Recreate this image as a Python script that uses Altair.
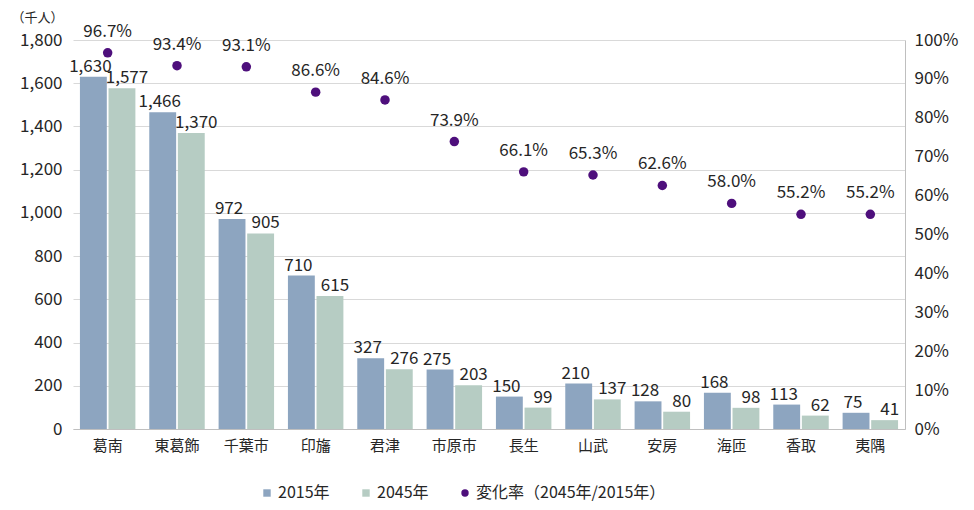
import altair as alt
import pandas as pd

cats = ["葛南", "東葛飾", "千葉市", "印旛", "君津", "市原市", "長生", "山武", "安房", "海匝", "香取", "夷隅"]
v2015 = [1630, 1466, 972, 710, 327, 275, 150, 210, 128, 168, 113, 75]
v2045 = [1577, 1370, 905, 615, 276, 203, 99, 137, 80, 98, 62, 41]
rate = [96.7, 93.4, 93.1, 86.6, 84.6, 73.9, 66.1, 65.3, 62.6, 58.0, 55.2, 55.2]
series = ["2015年", "2045年", "変化率（2045年/2015年）"]
colors = ["#8DA5C0", "#B6CCC3", "#4E0F7C"]
left_ticks = [0, 200, 400, 600, 800, 1000, 1200, 1400, 1600, 1800]
right_ticks = [0, 0.1, 0.2, 0.3, 0.4, 0.5, 0.6, 0.7, 0.8, 0.9, 1.0]

FONT = "Noto Sans CJK JP"
TXT = "#262626"

bars_df = pd.DataFrame({
    "cat": cats * 2,
    "series": [series[0]] * len(cats) + [series[1]] * len(cats),
    "value": v2015 + v2045,
})
rate_df = pd.DataFrame({"cat": cats, "series": [series[2]] * len(cats), "rate": rate})

xenc = alt.X(
    "cat:N", sort=cats,
    scale=alt.Scale(paddingInner=0.2, paddingOuter=0.1),
    axis=alt.Axis(title=None, labelAngle=0, ticks=False, domainColor="#BFBFBF",
                  labelPadding=9, labelFontSize=15, labelColor=TXT),
)
xoff = alt.XOffset("series:N", sort=series[:2], scale=alt.Scale(paddingInner=0.06))

legend = alt.Legend(title=None, orient="none", direction="horizontal", legendX=186, legendY=445,
                    labelFontSize=16, labelColor=TXT, symbolSize=55, columnPadding=28,
                    symbolStrokeWidth=0, labelOffset=3, labelLimit=0)
color = alt.Color("series:N", scale=alt.Scale(domain=series, range=colors), legend=legend)

yleft = alt.Y(
    "value:Q",
    scale=alt.Scale(domain=[0, 1800], nice=False),
    axis=alt.Axis(values=left_ticks, labelExpr="format(datum.value, ',')", grid=True,
                  gridColor="#D9D9D9", domain=False, labelOverlap=False,
                  ticks=False, labelPadding=11, labelFontSize=17, labelColor=TXT,
                  title="（千人）", titleAngle=0, titleX=-62, titleY=-23, titleAlign="left",
                  titleBaseline="middle", titleFontWeight="normal", titleFontSize=13,
                  titleColor=TXT),
)

bars = alt.Chart(bars_df).mark_bar().encode(x=xenc, xOffset=xoff, y=yleft, color=color)
btext15 = alt.Chart(bars_df).transform_filter(alt.datum.series == series[0]).mark_text(
    baseline="bottom", dy=-1, dx=-3, fontSize=17, color=TXT
).encode(x=xenc, xOffset=xoff, y=yleft, text=alt.Text("value:Q", format=",d"))
btext45 = alt.Chart(bars_df).transform_filter(alt.datum.series == series[1]).mark_text(
    baseline="bottom", dy=-1, dx=5, fontSize=17, color=TXT
).encode(x=xenc, xOffset=xoff, y=yleft, text=alt.Text("value:Q", format=",d"))

yright = alt.Y(
    "frac:Q",
    scale=alt.Scale(domain=[0, 1], nice=False),
    axis=alt.Axis(orient="right", values=right_ticks, format=".0%", grid=False,
                  domainColor="#BFBFBF", ticks=False, labelPadding=9, labelFontSize=17,
                  labelColor=TXT, title=None, labelOverlap=False),
)
shape = alt.Shape("series:N", scale=alt.Scale(domain=series, range=["square", "square", "circle"]),
                  legend=legend)
pts = alt.Chart(rate_df).transform_calculate(frac="datum.rate / 100").mark_point(
    filled=True, size=90, opacity=1
).encode(x=xenc, y=yright, color=color, shape=shape)
ptext = alt.Chart(rate_df).transform_calculate(
    frac="datum.rate / 100", lab="format(datum.rate, '.1f') + '%'"
).mark_text(baseline="bottom", dy=-12, fontSize=17, color=TXT).encode(
    x=xenc, y=yright, text="lab:N"
)

chart = alt.layer(
    alt.layer(bars, btext15, btext45),
    alt.layer(pts, ptext),
).resolve_scale(y="independent").properties(
    width=832, height=389,
    autosize=alt.AutoSizeParams(type="none"),
    padding={"left": 65, "top": 32, "right": 60, "bottom": 75},
).configure(font=FONT).configure_view(stroke=None).configure_axis(labelOverlap=False)

chart.save("out.html", embed_options={"renderer": "svg", "actions": False})
